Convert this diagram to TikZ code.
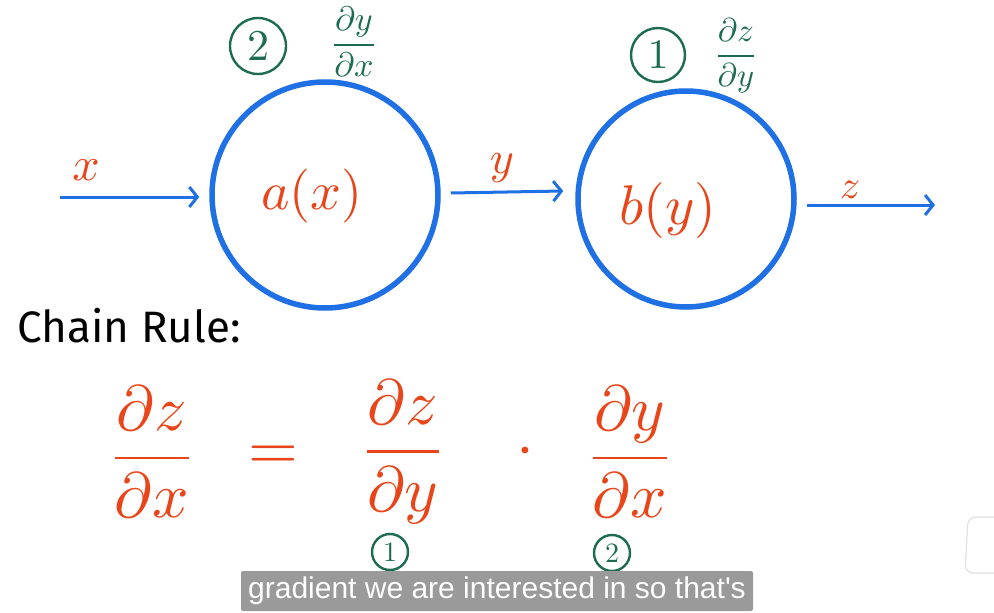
\documentclass[tikz,border=0pt]{standalone}
\usepackage{amsmath,amssymb}
\usepackage{fontspec}
\setsansfont{Fira Sans}
\newfontfamily\subfont{Liberation Sans}
\usetikzlibrary{calc,positioning,arrows.meta}
\definecolor{pen}{HTML}{E8461A}
\definecolor{ink}{HTML}{1D6B52}
\definecolor{wire}{HTML}{1F6FE5}
\definecolor{caption}{HTML}{9A9A9A}
\newcommand{\enl}[2]{\scalebox{#1}{#2}}
\tikzset{
  unit/.style={circle,draw=wire,line width=5.5pt,minimum size=#1},
  flow/.style={draw=wire,line width=3pt,-{Straight Barb[length=8pt,width=20pt,line width=3pt]}},
  order/.style={circle,draw=ink,line width=2.4pt,minimum size=#1,inner sep=0pt,text=ink},
}
\begin{document}
\begin{tikzpicture}[x=1pt,y=-1pt]
\useasboundingbox (0,0) rectangle (994,613);
% the two functions
\node[unit=226pt] (a) at (325,195) {};
\node[unit=216pt] (b) at (686,199) {};
\node[text=pen] (fa) at (312,196) {\enl{5.4}{$a(x)$}};
\node[text=pen] (fb) at (668,210) {\enl{5.6}{$b(y)$}};
% inputs and outputs
\coordinate (xin) at (60,197);
\coordinate (zout) at (935,205);
\draw[flow] (xin) -- ($(a.west)+(-10,2)$);
\draw[flow] ($(a.east)+(10,-2)$) -- ($(b.west)+(-12,-8)$);
\draw[flow] ($(b.east)+(10,6)$) -- (zout);
\node[text=pen] (lx) at (86,170) {\enl{4.8}{$x$}};
\node[text=pen] (ly) at (502,168) {\enl{4.6}{$y$}};
\node[text=pen] (lz) at (850,190) {\enl{4}{$z$}};
% local derivatives
\node[order=56pt] (n2) at (258,46) {\enl{4.4}{$2$}};
\node[text=ink] (d2) at (354,42) {\enl{3.4}{$\dfrac{\partial y}{\partial x}$}};
\node[order=54pt] (n1) at (658,55) {\enl{4.2}{$1$}};
\node[text=ink] (d1) at (736,56) {\enl{3.3}{$\dfrac{\partial z}{\partial y}$}};
% chain rule
\node[anchor=west,font=\sffamily\fontsize{44}{48}\selectfont] (rule) at (14,326) {Chain Rule:};
\foreach \nm/\px/\num/\den in {lhs/152/z/x, rz/403/z/y, ry/630/y/x}{
  \node[text=pen] (\nm) at (\px,452) {\enl{6.4}{$\dfrac{\partial \num}{\partial \den}$}};}
\node[text=pen] (eq) at (273,458) {\enl{6.4}{$=$}};
\node[text=pen] (dot) at (525,452) {\enl{6.4}{$\cdot$}};
\node[order=36pt] (m1) at (390,552) {\enl{2.8}{$1$}};
\node[order=36pt] (m2) at (612,553) {\enl{2.8}{$2$}};
% subtitle
\node[fill=caption,text=white,minimum width=512pt,minimum height=40pt,rounded corners=2pt,
  font=\subfont\fontsize{30}{32}\selectfont] (sub) at (497,591) {gradient we are interested in so that's};
\draw[black!12,line width=1.2pt,rounded corners=8pt,fill=white] (1000,517) -- (968,517) -- (965,573) -- (1000,573);
\end{tikzpicture}
\end{document}
